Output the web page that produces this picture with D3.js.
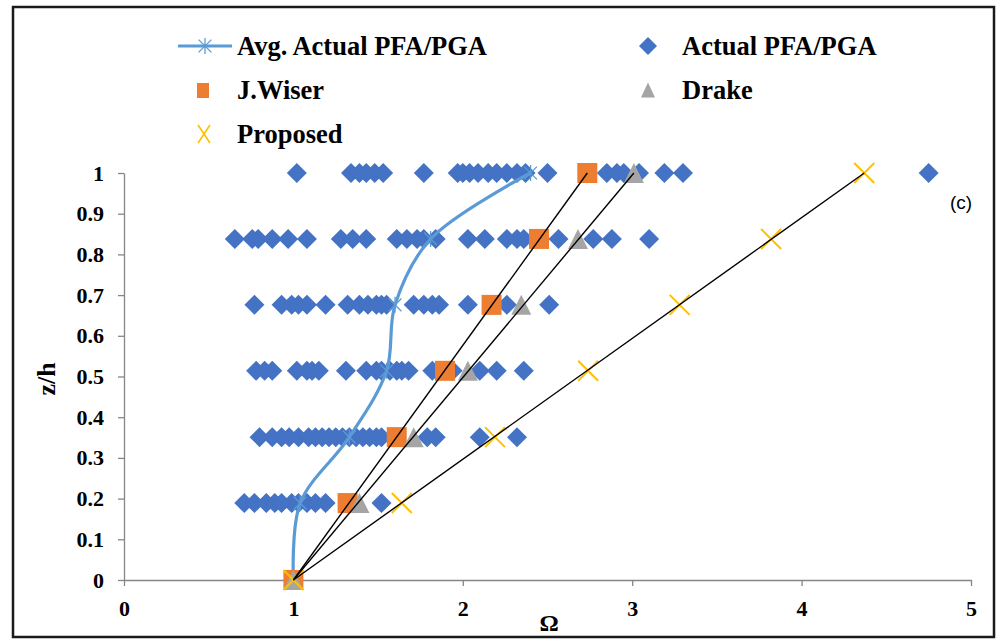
<!DOCTYPE html>
<html>
<head>
<meta charset="utf-8">
<script src="https://cdn.jsdelivr.net/npm/d3@7"></script>
<style>
  html, body { margin: 0; padding: 0; background: #fff; }
</style>
</head>
<body>
<div id="chart"></div>
<script>
// storey levels z/h
const levels = [0, 0.189, 0.351, 0.514, 0.676, 0.838, 1];

// average of actual PFA/PGA at each level
const avgActual = [1.00, 1.04, 1.33, 1.55, 1.60, 1.81, 2.40];

// actual PFA/PGA, one list per level (same order as levels)
const actualL0 = [1.00];
const actualL1 = [0.71, 0.77, 0.84, 0.89, 0.93, 0.99, 1.03, 1.08, 1.13, 1.19, 1.52];
const actualL2 = [0.80, 0.875, 0.93, 0.975, 1.03, 1.09, 1.13, 1.17, 1.21, 1.25, 1.29, 1.33, 1.37, 1.41, 1.45, 1.49, 1.52, 1.79, 1.84, 2.10, 2.32];
const actualL3 = [0.78, 0.83, 0.875, 1.02, 1.08, 1.11, 1.15, 1.31, 1.43, 1.49, 1.52, 1.57, 1.61, 1.64, 1.68, 1.82, 1.94, 2.10, 2.20, 2.36];
const actualL4 = [0.77, 0.93, 0.99, 1.03, 1.08, 1.19, 1.32, 1.39, 1.44, 1.49, 1.52, 1.55, 1.71, 1.77, 1.82, 1.86, 2.03, 2.26, 2.51];
const actualL5 = [0.654, 0.757, 0.792, 0.875, 0.969, 1.08, 1.28, 1.35, 1.43, 1.61, 1.67, 1.73, 1.77, 1.84, 2.03, 2.13, 2.26, 2.32, 2.36, 2.565, 2.77, 2.88, 3.10];
const actualL6 = [1.02, 1.34, 1.39, 1.43, 1.48, 1.53, 1.77, 1.97, 2.00, 2.04, 2.09, 2.15, 2.20, 2.26, 2.32, 2.37, 2.50, 2.85, 2.91, 2.95, 3.04, 3.19, 3.30, 4.75];

const jWiser   = [1.00, 1.32, 1.61, 1.895, 2.17, 2.45, 2.735];
const drake    = [1.00, 1.39, 1.71, 2.03, 2.345, 2.68, 3.01];
const proposed = [1.00, 1.64, 2.19, 2.74, 3.28, 3.82, 4.37];

const xTicks = [0, 1, 2, 3, 4, 5];
const xTickLabels = ["0", "1", "2", "3", "4", "5"];
const yTicks = [0, 0.1, 0.2, 0.3, 0.4, 0.5, 0.6, 0.7, 0.8, 0.9, 1];
const yTickLabels = ["0", "0.1", "0.2", "0.3", "0.4", "0.5", "0.6", "0.7", "0.8", "0.9", "1"];

const W = 1002, H = 642;
const serif = "'Liberation Serif', 'Times New Roman', serif";

const svg = d3.select("#chart").append("svg")
    .attr("width", W)
    .attr("height", H);

// outer frame
svg.append("rect")
    .attr("x", 13).attr("y", 7)
    .attr("width", 981).attr("height", 630)
    .attr("fill", "#fff")
    .attr("stroke", "#1a1a1a")
    .attr("stroke-width", 2.5);

const xScale = d3.scaleLinear().domain([0, 5]).range([124, 971]);
const yScale = d3.scaleLinear().domain([0, 1]).range([580, 173]);

// axes
const xAxis = svg.append("g")
    .attr("transform", `translate(0,${yScale(0)})`)
    .call(d3.axisBottom(xScale).tickValues(xTicks).tickSize(6).tickSizeOuter(0).tickPadding(14)
        .tickFormat((d, i) => xTickLabels[i]));
const yAxis = svg.append("g")
    .attr("transform", `translate(${xScale(0)},0)`)
    .call(d3.axisLeft(yScale).tickValues(yTicks).tickSize(6).tickSizeOuter(0).tickPadding(14)
        .tickFormat((d, i) => yTickLabels[i]));

[xAxis, yAxis].forEach(a => {
    a.select(".domain").attr("stroke", "#868686").attr("stroke-width", 1.3);
    a.selectAll(".tick line").attr("stroke", "#868686").attr("stroke-width", 1.3);
    a.selectAll("text")
        .attr("font-family", serif)
        .attr("font-weight", "bold")
        .attr("font-size", "22px")
        .attr("fill", "#000");
});
xAxis.selectAll("text").attr("dy", "0.71em");

// axis titles
svg.append("text")
    .attr("x", 549).attr("y", 631)
    .attr("text-anchor", "middle")
    .attr("font-family", serif).attr("font-weight", "bold").attr("font-size", "24px")
    .text("Ω");

svg.append("text")
    .attr("transform", "translate(55,379) rotate(-90)")
    .attr("text-anchor", "middle")
    .attr("font-family", serif).attr("font-weight", "bold").attr("font-size", "26px")
    .text("z/h");

// (c) label
svg.append("text")
    .attr("x", 961).attr("y", 209)
    .attr("text-anchor", "middle")
    .attr("font-family", "'Liberation Sans', Arial, sans-serif").attr("font-size", "19px")
    .text("(c)");

// marker helpers
const diamondPath = (cx, cy, r) => `M${cx},${cy - r}L${cx + r},${cy}L${cx},${cy + r}L${cx - r},${cy}Z`;
const trianglePath = (cx, cy, w, h) => `M${cx},${cy - h / 2}L${cx + w / 2},${cy + h / 2}L${cx - w / 2},${cy + h / 2}Z`;
const timesPath = (cx, cy, rx, ry) => `M${cx - rx},${cy - ry}L${cx + rx},${cy + ry}M${cx - rx},${cy + ry}L${cx + rx},${cy - ry}`;
const asteriskPath = (cx, cy, r) => `M${cx},${cy - r}L${cx},${cy + r}M${cx - r * 0.8},${cy - r * 0.8}L${cx + r * 0.8},${cy + r * 0.8}M${cx - r * 0.8},${cy + r * 0.8}L${cx + r * 0.8},${cy - r * 0.8}`;

// actual PFA/PGA diamonds
const actualLists = [actualL0, actualL1, actualL2, actualL3, actualL4, actualL5, actualL6];
const actualPts = [];
actualLists.forEach((list, i) => list.forEach(v => actualPts.push({ x: v, z: levels[i] })));

svg.append("g").selectAll("path")
    .data(actualPts)
    .enter().append("path")
    .attr("d", d => diamondPath(xScale(d.x), yScale(d.z), 10))
    .attr("fill", "#4472C4");

// average line, smoothed
const avgPts = levels.map((z, i) => ({ x: avgActual[i], z }));
const avgLine = d3.line()
    .x(d => xScale(d.x))
    .y(d => yScale(d.z))
    .curve(d3.curveCatmullRom.alpha(0.5));

svg.append("path")
    .datum(avgPts)
    .attr("d", avgLine)
    .attr("fill", "none")
    .attr("stroke", "#5B9BD5")
    .attr("stroke-width", 3.2);

svg.append("g").selectAll("path")
    .data(avgPts)
    .enter().append("path")
    .attr("d", d => asteriskPath(xScale(d.x), yScale(d.z), 8))
    .attr("stroke", "#5B9BD5")
    .attr("stroke-width", 1.3)
    .attr("fill", "none");

// J.Wiser squares
svg.append("g").selectAll("rect")
    .data(levels.map((z, i) => ({ x: jWiser[i], z })))
    .enter().append("rect")
    .attr("x", d => xScale(d.x) - 10)
    .attr("y", d => yScale(d.z) - 10)
    .attr("width", 20).attr("height", 20)
    .attr("fill", "#ED7D31");

// Drake triangles
svg.append("g").selectAll("path")
    .data(levels.map((z, i) => ({ x: drake[i], z })))
    .enter().append("path")
    .attr("d", d => trianglePath(xScale(d.x), yScale(d.z), 20, 20))
    .attr("fill", "#A5A5A5");

// Proposed crosses
svg.append("g").selectAll("path")
    .data(levels.map((z, i) => ({ x: proposed[i], z })))
    .enter().append("path")
    .attr("d", d => timesPath(xScale(d.x), yScale(d.z), 10, 10))
    .attr("stroke", "#FFC000")
    .attr("stroke-width", 2)
    .attr("fill", "none");

// straight trend lines from base to roof for each method
[jWiser, drake, proposed].forEach(s => {
    const last = s.length - 1;
    svg.append("line")
        .attr("x1", xScale(s[0])).attr("y1", yScale(levels[0]))
        .attr("x2", xScale(s[last])).attr("y2", yScale(levels[last]))
        .attr("stroke", "#000")
        .attr("stroke-width", 1.4);
});

// legend
const legend = svg.append("g");
const legendText = (x, y, t) => legend.append("text")
    .attr("x", x).attr("y", y)
    .attr("dy", "0.35em")
    .attr("font-family", serif).attr("font-weight", "bold").attr("font-size", "26.5px")
    .attr("fill", "#000")
    .text(t);

legend.append("line")
    .attr("x1", 178).attr("x2", 232).attr("y1", 46).attr("y2", 46)
    .attr("stroke", "#5B9BD5").attr("stroke-width", 3.2);
legend.append("path")
    .attr("d", asteriskPath(205, 46, 8))
    .attr("stroke", "#5B9BD5").attr("stroke-width", 1.3).attr("fill", "none");
legendText(237, 46, "Avg. Actual PFA/PGA");

legend.append("path").attr("d", diamondPath(648, 46, 9)).attr("fill", "#4472C4");
legendText(682, 46, "Actual PFA/PGA");

legend.append("rect").attr("x", 197).attr("y", 83).attr("width", 12).attr("height", 15).attr("fill", "#ED7D31");
legendText(237, 90, "J.Wiser");

legend.append("path").attr("d", trianglePath(648, 90, 14, 15)).attr("fill", "#A5A5A5");
legendText(682, 90, "Drake");

legend.append("path").attr("d", timesPath(204, 134, 6, 9)).attr("stroke", "#FFC000").attr("stroke-width", 1.6).attr("fill", "none");
legendText(237, 134, "Proposed");
</script>
</body>
</html>
